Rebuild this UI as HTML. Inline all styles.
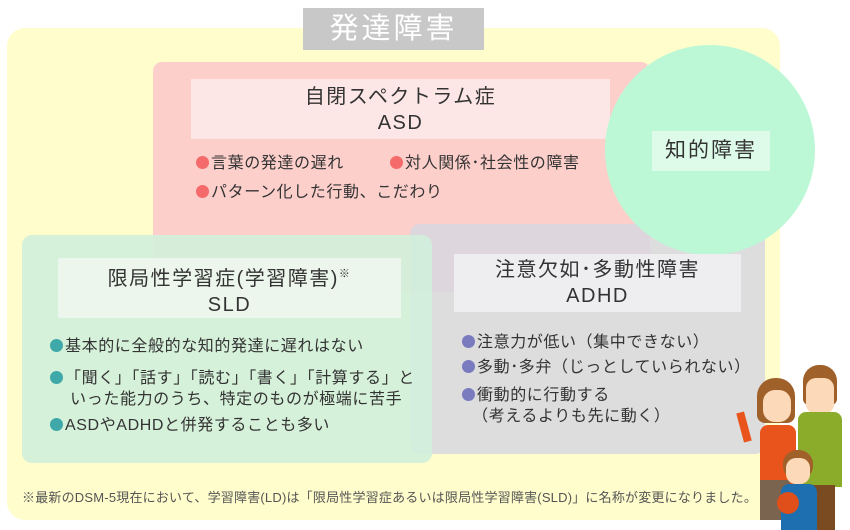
<!DOCTYPE html>
<html><head><meta charset="utf-8"><style>
body{margin:0;width:850px;height:530px;background:#fff;position:relative;overflow:hidden;font-family:"Liberation Sans","Noto Sans CJK JP",sans-serif;color:#333}
div{position:absolute;box-sizing:border-box}
.t{text-align:center;line-height:26px;font-size:20px;color:#333;letter-spacing:1.5px}
.li{font-size:16px;line-height:21px;white-space:nowrap;letter-spacing:0.6px}
.d{display:inline-block;width:13px;height:13px;border-radius:50%;margin-right:2px;vertical-align:-1px}
</style></head><body>
<div style="left:7px;top:28px;width:773px;height:492px;background:#fffdcc;border-radius:18px"></div>
<div style="left:303px;top:8px;width:181px;height:42px;background:#c8c8c8;color:#fff;font-size:29px;text-align:center;line-height:42px;letter-spacing:3px">発達障害</div>
<div style="left:153px;top:62px;width:497px;height:230px;background:#fccfcb;border-radius:9px"></div>
<div style="left:191px;top:79px;width:419px;height:60px;background:#fde6e6" class="t"><div style="position:static;padding-top:5px">自閉スペクトラム症<br>ASD</div></div>
<div class="li" style="left:196px;top:153px"><span class="d" style="background:#f56b6b"></span>言葉の発達の遅れ</div>
<div class="li" style="left:390px;top:153px"><span class="d" style="background:#f56b6b"></span>対人関係･社会性の障害</div>
<div class="li" style="left:196px;top:182px"><span class="d" style="background:#f56b6b"></span>パターン化した行動、こだわり</div>
<div style="left:410px;top:224px;width:355px;height:230px;background:rgba(215,215,225,0.85);border-radius:10px"></div>
<div style="left:22px;top:235px;width:410px;height:228px;background:rgba(210,240,220,0.9);border-radius:10px"></div>
<div style="left:605px;top:45px;width:210px;height:210px;border-radius:50%;background:#bdf8d6"></div>
<div style="left:652px;top:131px;width:118px;height:40px;background:#defbea;font-size:21px;text-align:center;line-height:40px;letter-spacing:2px">知的障害</div>
<div style="left:454px;top:254px;width:287px;height:58px;background:#eeeef0" class="t"><div style="position:static;padding-top:3px">注意欠如･多動性障害<br>ADHD</div></div>
<div class="li" style="left:462px;top:332px"><span class="d" style="background:#7a7abf"></span>注意力が低い（集中できない）</div>
<div class="li" style="left:462px;top:357px"><span class="d" style="background:#7a7abf"></span>多動･多弁（じっとしていられない）</div>
<div class="li" style="left:462px;top:385px"><span class="d" style="background:#7a7abf"></span>衝動的に行動する<br>&nbsp;&nbsp;（考えるよりも先に動く）</div>
<div style="left:58px;top:258px;width:343px;height:60px;background:#ecf6ed" class="t"><div style="position:static;padding-top:3px">限局性学習症(学習障害)<sup style="font-size:11px;vertical-align:8px">※</sup><br>SLD</div></div>
<div class="li" style="left:50px;top:336px"><span class="d" style="background:#3fa9a9"></span>基本的に全般的な知的発達に遅れはない</div>
<div class="li" style="left:50px;top:368px"><span class="d" style="background:#3fa9a9"></span>「聞く」「話す」「読む」「書く」「計算する」と<br>&nbsp;&nbsp;&nbsp;&nbsp;いった能力のうち、特定のものが極端に苦手</div>
<div class="li" style="left:50px;top:415px"><span class="d" style="background:#3fa9a9"></span>ASDやADHDと併発することも多い</div>
<div style="left:22px;top:487px;font-size:13px;letter-spacing:0.2px;color:#555;white-space:nowrap">※最新のDSM-5現在において、学習障害(LD)は「限局性学習症あるいは限局性学習障害(SLD)」に名称が変更になりました。</div>
<!-- family -->
<div style="left:757px;top:378px;width:38px;height:45px;background:#a0602a;border-radius:18px 18px 8px 8px"></div>
<div style="left:763px;top:390px;width:28px;height:32px;background:#fcd9b8;border-radius:12px"></div>
<div style="left:760px;top:425px;width:36px;height:60px;background:#e8541b;border-radius:8px 8px 0 0"></div>
<div style="left:760px;top:480px;width:30px;height:40px;background:#7a6450"></div>
<div style="left:740px;top:412px;width:8px;height:30px;background:#e8541b;transform:rotate(-15deg)"></div>
<div style="left:803px;top:365px;width:34px;height:40px;background:#a0602a;border-radius:16px 16px 6px 6px"></div>
<div style="left:806px;top:378px;width:28px;height:36px;background:#fcd9b8;border-radius:10px"></div>
<div style="left:798px;top:412px;width:44px;height:75px;background:#8aac2a;border-radius:8px 8px 0 0"></div>
<div style="left:805px;top:485px;width:30px;height:45px;background:#7a4a20"></div>
<div style="left:783px;top:450px;width:30px;height:30px;background:#a0602a;border-radius:14px"></div>
<div style="left:786px;top:458px;width:24px;height:26px;background:#fcd9b8;border-radius:10px"></div>
<div style="left:781px;top:484px;width:36px;height:46px;background:#1d6fb0;border-radius:8px 8px 0 0"></div>
<div style="left:777px;top:492px;width:22px;height:22px;background:#e04e1a;border-radius:50%"></div>
</body></html>
